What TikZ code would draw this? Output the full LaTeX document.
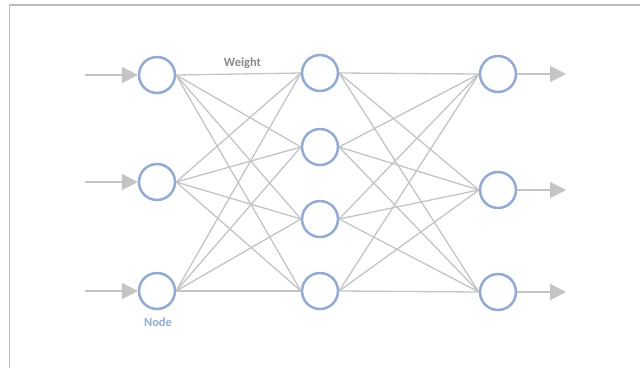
\documentclass[tikz,border=0pt]{standalone}
\usepackage{fontspec}
\setmainfont{Carlito}
\usetikzlibrary{arrows.meta}
\definecolor{nodeblue}{HTML}{8FAADC}
\definecolor{linegray}{HTML}{C4C4C4}
\definecolor{framegray}{HTML}{BDBDBD}
\definecolor{textgray}{HTML}{8A8A8A}
\tikzset{
  neuron/.style={circle, draw=nodeblue, line width=2.2pt, minimum size=36pt, inner sep=0pt, fill=white},
  wire/.style={draw=linegray, line width=1.3pt},
  io/.style={draw=linegray, line width=1.6pt, -{Triangle[length=16pt,width=16pt]}},
  lbl/.style={font=\bfseries\fontsize{12.5}{14}\selectfont, inner sep=0pt}
}
\begin{document}
\begin{tikzpicture}[x=1pt,y=-1pt]
\useasboundingbox (0,0) rectangle (640,368);
\draw[framegray, line width=1.5pt] (640,5) -- (9.5,5) -- (9.5,368);
\node[neuron] (a1) at (157,75) {};
\node[neuron] (a2) at (157,182) {};
\node[neuron] (a3) at (157,291) {};
\node[neuron] (b1) at (320,73) {};
\node[neuron] (b2) at (320,147) {};
\node[neuron] (b3) at (320,219) {};
\node[neuron] (b4) at (320,291) {};
\node[neuron] (c1) at (498,74) {};
\node[neuron] (c2) at (498,190) {};
\node[neuron] (c3) at (498,292) {};
% wires
\foreach \a in {a1,a2,a3}{\foreach \b in {b1,b2,b3,b4}{\draw[wire] (\a.east) -- (\b.west);}}
\foreach \b in {b1,b2,b3,b4}{\foreach \c in {c1,c2,c3}{\draw[wire] (\b.east) -- (\c.west);}}
% redraw circles on top
\foreach \n in {a1,a2,a3,b1,b2,b3,b4,c1,c2,c3}{\draw[nodeblue, line width=2.2pt] (\n.center) circle (18pt);}
% inputs / outputs
\coordinate (i1) at (85,75);
\coordinate (i2) at (85,182);
\coordinate (i3) at (85,291);
\coordinate (o1) at (566,74);
\coordinate (o2) at (566,190);
\coordinate (o3) at (566,292);
\draw[io] (i1) -- (a1);
\draw[io] (i2) -- (a2);
\draw[io] (i3) -- (a3);
\draw[io] (c1) -- (o1);
\draw[io] (c2) -- (o2);
\draw[io] (c3) -- (o3);
% labels
\node[lbl, text=textgray] (w) at (242.5,63) {Weight};
\node[lbl, text=nodeblue] (n) at (158,322) {Node};
\end{tikzpicture}
\end{document}
